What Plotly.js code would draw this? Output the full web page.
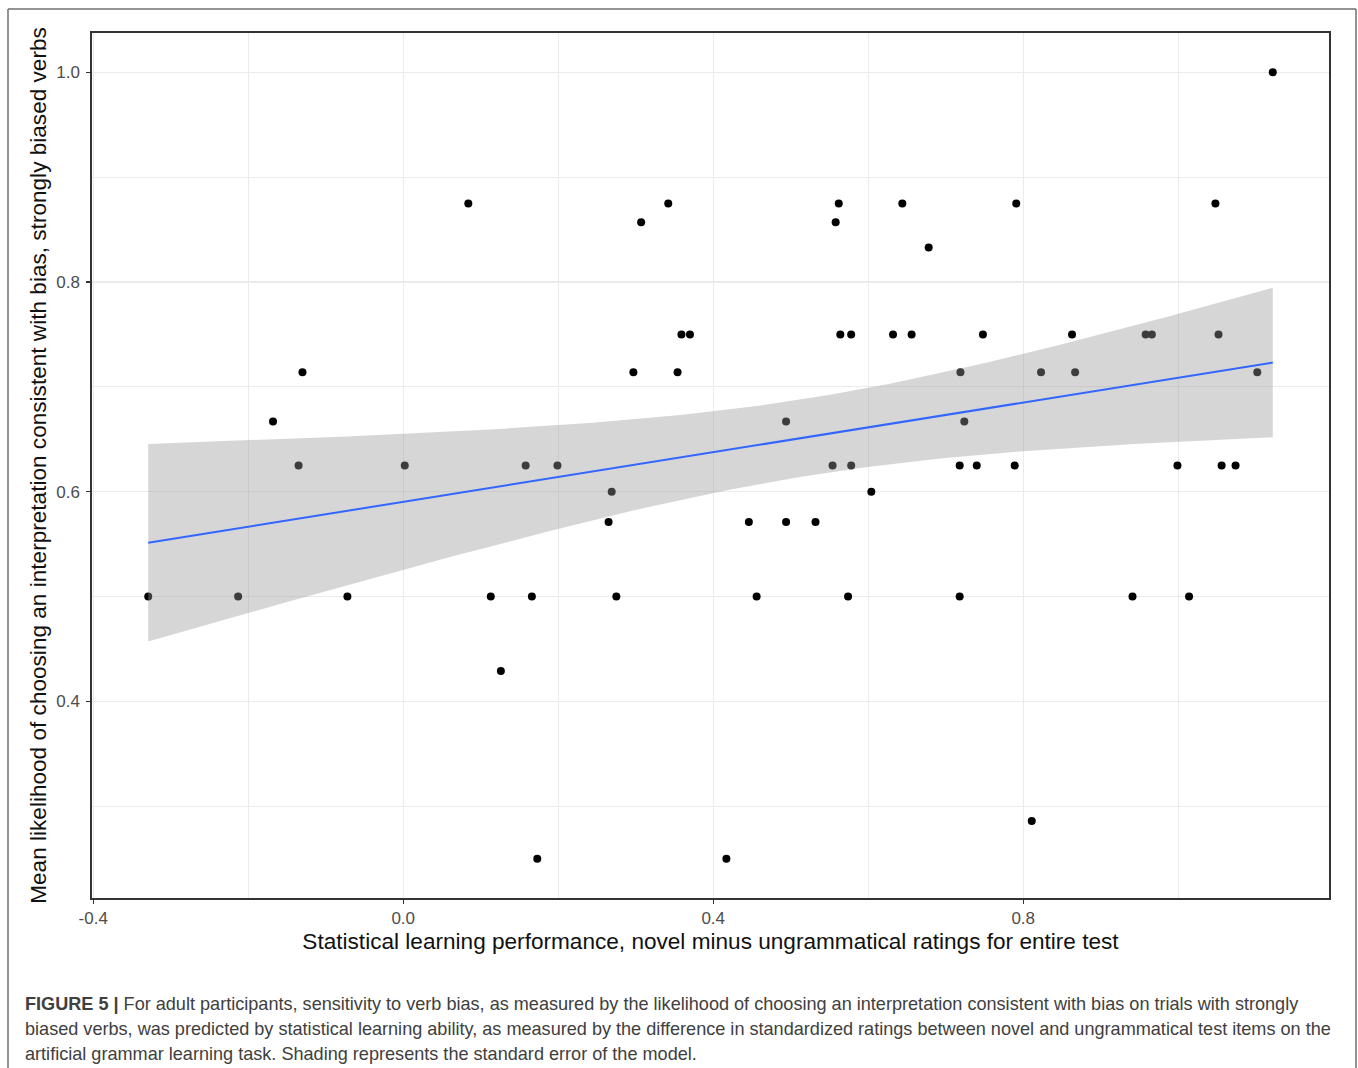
<!DOCTYPE html>
<html>
<head>
<meta charset="utf-8">
<script src="https://cdn.plot.ly/plotly-3.0.1.min.js"></script>
<style>
  html, body { margin: 0; padding: 0; background: #ffffff; }
  #chart { width: 1358px; height: 1068px; }
</style>
</head>
<body>
<div id="chart"></div>
<script>
// ---- Data ----
const learningScores = [
  -0.329, -0.213, -0.168, -0.135, -0.130, -0.072, 0.002, 0.084, 0.113, 0.126,
  0.158, 0.166, 0.173, 0.199, 0.265, 0.269, 0.275, 0.297, 0.307, 0.342,
  0.354, 0.359, 0.370, 0.417, 0.446, 0.456, 0.494, 0.494, 0.532, 0.554,
  0.558, 0.562, 0.564, 0.574, 0.578, 0.578, 0.604, 0.632, 0.644, 0.656,
  0.678, 0.718, 0.718, 0.719, 0.724, 0.740, 0.748, 0.789, 0.791, 0.811,
  0.823, 0.863, 0.867, 0.941, 0.958, 0.966, 0.999, 1.014, 1.048, 1.052,
  1.056, 1.074, 1.102, 1.122
];
const biasLikelihood = [
  0.500, 0.500, 0.667, 0.625, 0.714, 0.500, 0.625, 0.875, 0.500, 0.429,
  0.625, 0.500, 0.250, 0.625, 0.571, 0.600, 0.500, 0.714, 0.857, 0.875,
  0.714, 0.750, 0.750, 0.250, 0.571, 0.500, 0.667, 0.571, 0.571, 0.625,
  0.857, 0.875, 0.750, 0.500, 0.750, 0.625, 0.600, 0.750, 0.875, 0.750,
  0.833, 0.625, 0.500, 0.714, 0.667, 0.625, 0.750, 0.625, 0.875, 0.286,
  0.714, 0.750, 0.714, 0.500, 0.750, 0.750, 0.625, 0.500, 0.875, 0.750,
  0.625, 0.625, 0.714, 1.000
];
const xTickVals = [-0.4, 0.0, 0.4, 0.8];
const xTickText = ["-0.4", "0.0", "0.4", "0.8"];
const yTickVals = [0.4, 0.6, 0.8, 1.0];
const yTickText = ["0.4", "0.6", "0.8", "1.0"];
const xTitle = "Statistical learning performance, novel minus ungrammatical ratings for entire test";
const yTitle = "Mean likelihood of choosing an interpretation consistent with bias, strongly biased verbs";
const captionLines = [
  "<b>FIGURE 5 |</b> For adult participants, sensitivity to verb bias, as measured by the likelihood of choosing an interpretation consistent with bias on trials with strongly",
  "biased verbs, was predicted by statistical learning ability, as measured by the difference in standardized ratings between novel and ungrammatical test items on the",
  "artificial grammar learning task. Shading represents the standard error of the model."
];

// ---- Linear model with standard-error band (like geom_smooth(method = "lm")) ----
const n = learningScores.length;
const mx = learningScores.reduce((a, b) => a + b, 0) / n;
const my = biasLikelihood.reduce((a, b) => a + b, 0) / n;
let sxx = 0, sxy = 0;
for (let i = 0; i < n; i++) {
  sxx += (learningScores[i] - mx) ** 2;
  sxy += (learningScores[i] - mx) * (biasLikelihood[i] - my);
}
const slope = sxy / sxx;
const intercept = my - slope * mx;
let sse = 0;
for (let i = 0; i < n; i++) {
  const r = biasLikelihood[i] - (intercept + slope * learningScores[i]);
  sse += r * r;
}
const sigma = Math.sqrt(sse / (n - 2));
const tq = 1.999; // t quantile, 95%, df ~ 62
const xmin = Math.min(...learningScores), xmax = Math.max(...learningScores);
const fitX = [], fitY = [], upY = [], loY = [];
for (let k = 0; k < 80; k++) {
  const x = xmin + (xmax - xmin) * k / 79;
  const y = intercept + slope * x;
  const se = sigma * Math.sqrt(1 / n + (x - mx) ** 2 / sxx);
  fitX.push(x); fitY.push(y); upY.push(y + tq * se); loY.push(y - tq * se);
}
const bandX = fitX.concat(fitX.slice().reverse());
const bandY = upY.concat(loY.slice().reverse());

// ggplot-like 5% expansion
const ymin = Math.min(...biasLikelihood), ymax = Math.max(...biasLikelihood);
const xr = [xmin - 0.05 * (xmax - xmin), xmax + 0.05 * (xmax - xmin)];
const yr = [ymin - 0.05 * (ymax - ymin), ymax + 0.05 * (ymax - ymin)];

// ---- Layout geometry (pixels) ----
const W = 1358, H = 1068;
const L = 92, T = 33, R = 1329, B = 898;
const pw = R - L, ph = B - T;
const px = p => (p - L) / pw;
const py = p => (B - p) / ph;

const traces = [
  {
    type: "scatter", mode: "markers",
    x: learningScores, y: biasLikelihood,
    marker: { color: "#000000", size: 8 },
    hoverinfo: "x+y", showlegend: false
  },
  {
    type: "scatter", mode: "lines",
    x: bandX, y: bandY, fill: "toself",
    fillcolor: "rgba(153,153,153,0.4)",
    line: { width: 0 }, hoverinfo: "skip", showlegend: false
  },
  {
    type: "scatter", mode: "lines",
    x: fitX, y: fitY,
    line: { color: "#3366FF", width: 2 },
    hoverinfo: "skip", showlegend: false
  }
];

const frameColor = "#707070";
const annotations = captionLines.map((t, i) => ({
  xref: "paper", yref: "paper",
  x: px(23), y: py(1004 + i * 25),
  xanchor: "left", yanchor: "middle",
  showarrow: false, align: "left",
  text: t,
  font: { family: "Liberation Sans, Arial, sans-serif", size: 18.1, color: "#404040" }
}));

const layout = {
  width: W, height: H,
  margin: { l: L, r: W - R, t: T, b: H - B, pad: 0 },
  paper_bgcolor: "#ffffff",
  plot_bgcolor: "#ffffff",
  font: { family: "Liberation Sans, Arial, sans-serif" },
  xaxis: {
    range: xr,
    tickmode: "array", tickvals: xTickVals, ticktext: xTickText,
    ticks: "outside", ticklen: 4, tickwidth: 1.2, tickcolor: "#333333",
    tickfont: { size: 17, color: "#4d4d4d" },
    showgrid: true, gridcolor: "#ebebeb", gridwidth: 1.2,
    minor: { tickvals: [-0.2, 0.2, 0.6, 1.0], showgrid: true, gridcolor: "#ebebeb", gridwidth: 1, ticks: "" },
    zeroline: false,
    showline: true, mirror: true, linecolor: "#333333", linewidth: 1.6,
    title: { text: xTitle, font: { size: 22.6, color: "#111111" }, standoff: 6 }
  },
  yaxis: {
    range: yr,
    tickmode: "array", tickvals: yTickVals, ticktext: yTickText,
    ticks: "outside", ticklen: 4, tickwidth: 1.2, tickcolor: "#333333",
    tickfont: { size: 17, color: "#4d4d4d" },
    ticklabelstandoff: 3,
    showgrid: true, gridcolor: "#ebebeb", gridwidth: 1.2,
    minor: { tickvals: [0.3, 0.5, 0.7, 0.9], showgrid: true, gridcolor: "#ebebeb", gridwidth: 1, ticks: "" },
    zeroline: false,
    showline: true, mirror: true, linecolor: "#333333", linewidth: 1.6,
    title: { text: yTitle, font: { size: 22.6, color: "#111111" }, standoff: 3 }
  },
  shapes: [
    { type: "line", xref: "paper", yref: "paper", x0: px(8), x1: px(1356), y0: py(9), y1: py(9), line: { color: frameColor, width: 1.5 } },
    { type: "line", xref: "paper", yref: "paper", x0: px(8), x1: px(8), y0: py(9), y1: py(1075), line: { color: frameColor, width: 1.5 } },
    { type: "line", xref: "paper", yref: "paper", x0: px(1356), x1: px(1356), y0: py(9), y1: py(1075), line: { color: frameColor, width: 1.5 } }
  ],
  annotations: annotations
};

Plotly.newPlot("chart", traces, layout, { displayModeBar: false, staticPlot: true });
</script>
</body>
</html>
